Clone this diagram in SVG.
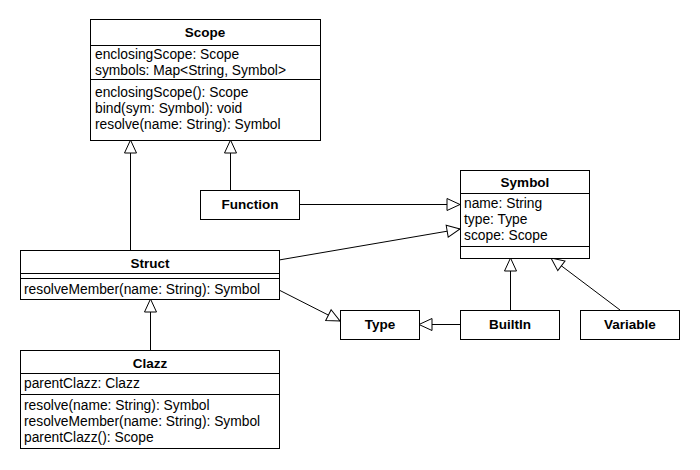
<svg xmlns="http://www.w3.org/2000/svg" width="700" height="470" viewBox="0 0 700 470">
<style>
.box{fill:#fff;stroke:#000;stroke-width:1}
.ln{stroke:#000;stroke-width:1;fill:none}
.t{font-family:"Liberation Sans",Arial,sans-serif;font-size:13.8px;fill:#000}
.b{font-family:"Liberation Sans",Arial,sans-serif;font-size:13.5px;font-weight:bold;fill:#000;text-anchor:middle}
.c{stroke:#000;stroke-width:1;fill:none;marker-end:url(#tri)}
</style>
<defs>
<marker id="tri" markerUnits="userSpaceOnUse" markerWidth="16" markerHeight="16" viewBox="0 0 16 16" refX="14" refY="8" orient="auto">
<path d="M1,2 L14,8 L1,14 Z" fill="#fff" stroke="#000" stroke-width="1"/>
</marker>
</defs>
<rect width="700" height="470" fill="#fff"/>
<g id="connectors">
<line class="c" x1="130.5" y1="250" x2="130.5" y2="140"/>
<line class="c" x1="230.5" y1="190" x2="230.5" y2="140"/>
<line class="c" x1="299" y1="204.5" x2="460" y2="204.5"/>
<line class="c" x1="279" y1="260" x2="460" y2="229"/>
<line class="c" x1="279" y1="290" x2="340" y2="321"/>
<line class="c" x1="460" y1="324.5" x2="419" y2="324.5"/>
<line class="c" x1="510.5" y1="310" x2="510.5" y2="258"/>
<line class="c" x1="620" y1="310" x2="551" y2="258"/>
<line class="c" x1="150.5" y1="350" x2="150.5" y2="299"/>
</g>
<g id="Scope">
<rect class="box" x="90.5" y="19.5" width="230" height="121"/>
<line class="ln" x1="90.5" y1="45.5" x2="320.5" y2="45.5"/>
<line class="ln" x1="90.5" y1="79.5" x2="320.5" y2="79.5"/>
<text class="b" x="205" y="37">Scope</text>
<text class="t" x="95" y="59">enclosingScope: Scope</text>
<text class="t" x="95" y="75">symbols: Map&lt;String, Symbol&gt;</text>
<text class="t" x="95" y="97">enclosingScope(): Scope</text>
<text class="t" x="95" y="113">bind(sym: Symbol): void</text>
<text class="t" x="95" y="129">resolve(name: String): Symbol</text>
</g>
<g id="Function">
<rect class="box" x="200.5" y="190.5" width="99" height="29"/>
<text class="b" x="250" y="209">Function</text>
</g>
<g id="Symbol">
<rect class="box" x="460.5" y="170.5" width="129" height="88"/>
<line class="ln" x1="460.5" y1="193.5" x2="589.5" y2="193.5"/>
<line class="ln" x1="460.5" y1="246.5" x2="589.5" y2="246.5"/>
<text class="b" x="525" y="187">Symbol</text>
<text class="t" x="464" y="208">name: String</text>
<text class="t" x="464" y="224">type: Type</text>
<text class="t" x="464" y="240">scope: Scope</text>
</g>
<g id="Struct">
<rect class="box" x="20.5" y="250.5" width="259" height="49"/>
<line class="ln" x1="20.5" y1="273.5" x2="279.5" y2="273.5"/>
<line class="ln" x1="20.5" y1="278.5" x2="279.5" y2="278.5"/>
<text class="b" x="150" y="268">Struct</text>
<text class="t" x="24" y="294">resolveMember(name: String): Symbol</text>
</g>
<g id="Clazz">
<rect class="box" x="20.5" y="350.5" width="259" height="98"/>
<line class="ln" x1="20.5" y1="373.5" x2="279.5" y2="373.5"/>
<line class="ln" x1="20.5" y1="394.5" x2="279.5" y2="394.5"/>
<text class="b" x="150" y="368">Clazz</text>
<text class="t" x="24" y="388">parentClazz: Clazz</text>
<text class="t" x="24" y="410">resolve(name: String): Symbol</text>
<text class="t" x="24" y="426">resolveMember(name: String): Symbol</text>
<text class="t" x="24" y="442">parentClazz(): Scope</text>
</g>
<g id="Type">
<rect class="box" x="340.5" y="310.5" width="79" height="29"/>
<text class="b" x="380" y="329">Type</text>
</g>
<g id="BuiltIn">
<rect class="box" x="460.5" y="310.5" width="99" height="29"/>
<text class="b" x="510" y="329">BuiltIn</text>
</g>
<g id="Variable">
<rect class="box" x="580.5" y="310.5" width="99" height="29"/>
<text class="b" x="630" y="329">Variable</text>
</g>
</svg>
